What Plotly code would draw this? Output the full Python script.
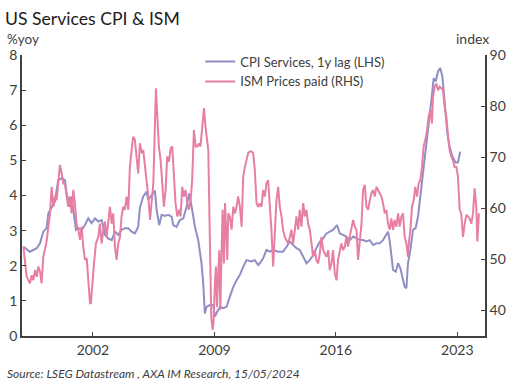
import plotly.graph_objects as go
import pandas as pd

# CPI Services, 1y lag (LHS) - decimal year, %yoy
cpi_t = [1997.99, 1998.37, 1998.76, 1998.95, 1999.14, 1999.33, 1999.43, 1999.62, 1999.81, 2000.0,
         2000.2, 2000.39, 2000.48, 2000.68, 2000.77, 2000.87, 2001.02, 2001.16, 2001.35, 2001.54,
         2001.73, 2001.92, 2002.12, 2002.31, 2002.5, 2002.69, 2002.88, 2003.08, 2003.27, 2003.46,
         2003.65, 2003.84, 2004.04, 2004.23, 2004.42, 2004.61, 2004.71, 2004.9, 2005.09, 2005.19,
         2005.38, 2005.57, 2005.67, 2005.82, 2005.96, 2006.15, 2006.34, 2006.53, 2006.63, 2006.82,
         2007.01, 2007.21, 2007.4, 2007.55, 2007.69, 2007.88, 2008.07, 2008.26, 2008.36, 2008.45,
         2008.55, 2008.74, 2008.93, 2009.03, 2009.16, 2009.32, 2009.51, 2009.7, 2009.89, 2010.09,
         2010.28, 2010.47, 2010.66, 2010.85, 2011.14, 2011.33, 2011.53, 2011.62, 2011.81, 2012.0,
         2012.2, 2012.39, 2012.68, 2012.96, 2013.16, 2013.35, 2013.54, 2013.73, 2013.92, 2014.12,
         2014.31, 2014.5, 2014.69, 2014.88, 2015.08, 2015.27, 2015.46, 2015.65, 2015.84, 2016.07,
         2016.23, 2016.42, 2016.61, 2016.8, 2017.0, 2017.19, 2017.38, 2017.57, 2017.76, 2017.96,
         2018.15, 2018.34, 2018.53, 2018.72, 2018.91, 2019.01, 2019.11, 2019.2, 2019.3, 2019.45,
         2019.59, 2019.72, 2019.84, 2019.97, 2020.07, 2020.16, 2020.3, 2020.45, 2020.6, 2020.74,
         2020.87, 2021.03, 2021.18, 2021.31, 2021.41, 2021.51, 2021.64, 2021.76, 2021.89, 2022.02,
         2022.14, 2022.27, 2022.43, 2022.56, 2022.72, 2022.9, 2023.04, 2023.17]
cpi_v = [2.54, 2.40, 2.50, 2.64, 2.97, 3.07, 3.49, 3.68, 3.83, 4.44,
         4.49, 4.44, 4.06, 3.68, 3.97, 3.59, 3.02, 3.07, 3.02, 3.16,
         3.35, 3.21, 3.35, 3.26, 3.30, 2.88, 2.78, 2.73, 2.97, 2.88,
         3.02, 3.07, 3.07, 2.97, 2.92, 3.11, 3.66, 3.97, 4.11, 3.88,
         4.02, 4.14, 3.59, 3.16, 3.45, 3.42, 3.45, 3.40, 3.16, 3.11,
         3.30, 3.35, 3.68, 4.06, 3.68, 3.11, 2.73, 2.07, 1.50, 0.64,
         0.83, 0.88, 0.88, 0.55, 0.69, 0.83, 0.79, 0.83, 1.12, 1.40,
         1.59, 1.74, 1.97, 2.16, 2.12, 2.16, 2.02, 2.07, 2.21, 2.45,
         2.40, 2.45, 2.40, 2.40, 2.54, 2.69, 2.59, 2.50, 2.45, 2.26,
         2.07, 2.16, 2.30, 2.50, 2.69, 2.78, 2.92, 2.97, 3.02, 3.16,
         2.92, 2.88, 2.83, 2.73, 2.83, 2.78, 2.73, 2.73, 2.69, 2.73,
         2.59, 2.64, 2.64, 2.73, 2.88, 2.97, 2.69, 2.21, 1.88, 1.83,
         2.07, 1.93, 1.69, 1.40, 1.36, 2.07, 2.45, 3.02, 3.07, 3.40,
         3.97, 4.63, 5.30, 5.77, 6.25, 6.72, 7.34, 7.25, 7.53, 7.63,
         7.39, 6.72, 5.77, 5.39, 5.11, 4.94, 4.94, 5.25]

# ISM Prices paid (RHS) - decimal year, index
ism_t = [1997.99, 1998.08, 1998.18, 1998.37, 1998.47, 1998.56, 1998.66, 1998.76, 1998.85, 1998.95,
         1999.04, 1999.14, 1999.24, 1999.33, 1999.43, 1999.52, 1999.62, 1999.72, 1999.81, 1999.91,
         2000.0, 2000.1, 2000.2, 2000.29, 2000.39, 2000.48, 2000.58, 2000.68, 2000.77, 2000.87,
         2000.96, 2001.06, 2001.16, 2001.25, 2001.35, 2001.44, 2001.54, 2001.64, 2001.73, 2001.83,
         2001.88, 2001.98, 2002.06, 2002.17, 2002.31, 2002.4, 2002.5, 2002.6, 2002.69, 2002.79,
         2002.88, 2002.98, 2003.08, 2003.17, 2003.27, 2003.36, 2003.46, 2003.56, 2003.65, 2003.75,
         2003.84, 2003.94, 2004.04, 2004.13, 2004.23, 2004.32, 2004.42, 2004.52, 2004.61,
         2004.71, 2004.81, 2004.9, 2005.0, 2005.09, 2005.19, 2005.29, 2005.38, 2005.48, 2005.57,
         2005.63, 2005.71, 2005.8, 2005.9, 2006.0, 2006.09, 2006.19, 2006.28, 2006.38, 2006.48,
         2006.57, 2006.67, 2006.76, 2006.86, 2006.96, 2007.05, 2007.15, 2007.24, 2007.34, 2007.44,
         2007.53, 2007.63, 2007.72, 2007.82, 2007.92, 2008.01, 2008.11, 2008.2, 2008.3, 2008.4,
         2008.49, 2008.59, 2008.65, 2008.7, 2008.76, 2008.82, 2008.9, 2008.95, 2009.03, 2009.09,
         2009.15, 2009.22, 2009.28, 2009.34, 2009.41, 2009.47, 2009.55, 2009.61, 2009.66, 2009.74,
         2009.8, 2009.89, 2009.99, 2010.09, 2010.18, 2010.28, 2010.37, 2010.47, 2010.57, 2010.66,
         2010.76, 2010.85, 2010.95, 2011.05, 2011.14, 2011.24, 2011.33, 2011.43, 2011.53,
         2011.62, 2011.72, 2011.81, 2011.91, 2012.0, 2012.1, 2012.2, 2012.29, 2012.39, 2012.48,
         2012.58, 2012.68, 2012.77, 2012.87, 2012.96, 2013.06, 2013.16, 2013.25, 2013.35, 2013.44,
         2013.54, 2013.64, 2013.73, 2013.83, 2013.92, 2014.02, 2014.12, 2014.21, 2014.31, 2014.4,
         2014.5, 2014.6, 2014.69, 2014.79, 2014.88, 2014.98, 2015.08, 2015.17, 2015.27, 2015.36,
         2015.46, 2015.56, 2015.65, 2015.75, 2015.84, 2015.94, 2016.04, 2016.13, 2016.23, 2016.32,
         2016.42, 2016.52, 2016.61, 2016.71, 2016.8, 2016.9, 2017.0, 2017.09, 2017.19, 2017.28,
         2017.38, 2017.48, 2017.57, 2017.67, 2017.76, 2017.86, 2017.96, 2018.05, 2018.15, 2018.24,
         2018.34, 2018.44,
         2018.53, 2018.63, 2018.72, 2018.82, 2018.91, 2019.01, 2019.11, 2019.2, 2019.3, 2019.39,
         2019.49, 2019.59, 2019.68, 2019.78, 2019.87, 2019.97, 2020.07, 2020.16, 2020.22, 2020.3,
         2020.39, 2020.49, 2020.58, 2020.68, 2020.78, 2020.87, 2020.97, 2021.06, 2021.16, 2021.26,
         2021.35, 2021.45, 2021.54, 2021.6, 2021.7, 2021.79, 2021.89, 2021.99, 2022.08, 2022.18,
         2022.27, 2022.37, 2022.47, 2022.56, 2022.66, 2022.75, 2022.85, 2022.95, 2023.04, 2023.14,
         2023.23, 2023.33, 2023.43, 2023.52, 2023.62, 2023.71, 2023.81, 2023.91, 2024.0, 2024.1,
         2024.16, 2024.25]
ism_v = [52.5, 49.2, 46.6, 45.3, 46.9, 45.9, 47.9, 46.6, 48.6, 47.6,
         45.3, 50.5, 52.5, 53.5, 56.4, 58.7, 64.2, 60.3, 62.3, 61.6,
         64.9, 68.5, 66.8, 64.9, 64.6, 62.3, 60.3, 62.3, 59.0, 63.6,
         61.0, 56.7, 55.8, 53.8, 56.4, 52.5, 49.9, 50.2, 45.3, 41.4,
         41.4, 46.6, 49.2, 53.1, 54.4, 57.0, 53.1, 55.8, 57.4, 54.4,
         57.0, 60.3, 57.0, 59.0, 52.5, 49.9, 53.1, 54.4, 58.4, 60.3,
         59.7, 62.3, 59.7, 68.1, 71.4, 74.0, 73.4, 70.1, 66.8,
         72.7, 70.8, 71.4, 68.1, 66.2, 62.3, 57.7, 61.0, 64.9, 76.0,
         83.5, 78.0, 72.1, 69.4, 65.5, 60.3, 63.6, 70.1, 69.1, 71.7,
         72.1, 64.9, 61.0, 58.4, 59.7, 58.4, 64.2, 62.3, 63.6, 61.0,
         59.7, 61.6, 65.5, 75.3, 72.1, 72.1, 72.7, 72.1, 75.3, 79.6,
         76.0, 72.1, 71.4, 61.6, 48.6, 38.8, 36.2, 37.5, 45.3, 48.6,
         40.7, 49.2, 51.8, 40.1, 54.4, 59.7, 49.2, 61.0, 57.0, 49.9,
         59.0, 58.4, 55.8, 60.3, 59.0, 60.3, 62.3, 60.3, 56.4, 66.2,
         68.1, 69.4, 70.8, 71.1, 71.1, 70.8, 67.5, 61.0, 60.3,
         61.0, 60.3, 63.6, 62.3, 64.9, 65.5, 60.3, 55.8, 48.6, 55.1,
         61.6, 64.2, 60.3, 58.4, 55.8, 54.4, 53.8, 53.1, 54.4, 55.8,
         53.1, 56.4, 58.4, 55.8, 59.7, 56.4, 61.0, 58.4, 59.7, 57.0,
         55.8, 53.1, 50.5, 51.8, 49.9, 49.2, 51.2, 54.4, 51.8, 51.2,
         50.5, 51.8, 47.9, 49.2, 51.8, 47.3, 45.9, 49.9, 51.8, 53.1,
         51.8, 52.5, 54.4, 52.5, 54.4, 56.4, 57.7, 56.4, 55.8, 49.9,
         54.4, 57.0, 63.6, 64.6, 60.3, 59.7, 61.6, 62.9, 63.6, 62.3,
         64.2, 63.6,
         62.9, 62.3, 61.0, 59.0, 59.7, 57.0, 55.8, 58.0, 55.8, 57.7,
         56.4, 59.0, 56.4, 58.4, 59.0, 54.4, 53.1, 50.5, 53.5, 55.8,
         60.3, 61.6, 64.2, 62.3, 64.9, 65.5, 68.1, 72.1, 73.4, 75.3,
         78.0, 79.2, 76.6, 81.8, 83.8, 84.4, 83.1, 83.8, 83.5, 83.1,
         79.9, 78.0, 74.0, 71.4, 70.1, 69.4, 68.1, 68.1, 66.2, 59.7,
         59.0, 54.4, 57.0, 58.7, 58.4, 58.0, 57.0, 59.0, 63.9, 60.3,
         53.5, 59.0]

x_ticks = ["2002", "2009", "2016", "2023"]
y1_ticks = [0, 1, 2, 3, 4, 5, 6, 7, 8]
y2_ticks = [40, 50, 60, 70, 80, 90]


def to_date(y):
    yr = int(y)
    return pd.Timestamp(yr, 1, 1) + pd.Timedelta(days=(y - yr) * 365.25)


cpi_d = [to_date(t) for t in cpi_t]
ism_d = [to_date(t) for t in ism_t]

FONT = "Lato, 'Open Sans', sans-serif"
TXT = "#404040"
AX = "#404040"

fig = go.Figure()
fig.add_trace(go.Scatter(x=cpi_d, y=cpi_v, mode="lines", name="CPI Services, 1y lag (LHS)",
                         line=dict(color="#8f8fc4", width=2), yaxis="y"))
fig.add_trace(go.Scatter(x=ism_d, y=ism_v, mode="lines", name="ISM Prices paid (RHS)",
                         line=dict(color="#e77ea4", width=2), yaxis="y2"))

fig.update_layout(
    width=518, height=387,
    margin=dict(l=22, r=33, t=55, b=51),
    paper_bgcolor="white", plot_bgcolor="white",
    font=dict(family=FONT, size=14, color=TXT),
    showlegend=True,
    legend=dict(x=0.385, y=1.03, xanchor="left", yanchor="top", bgcolor="rgba(0,0,0,0)",
                font=dict(size=13, color=TXT), tracegroupgap=0, itemwidth=30),
    title=dict(text="US Services CPI & ISM", x=5/518, xanchor="left", xref="container",
               y=1 - 19/387, yanchor="middle", yref="container",
               font=dict(size=17.6, color="#202020", family=FONT)),
    xaxis=dict(type="date", range=[to_date(1997.91), to_date(2024.6)],
               tickvals=[pd.Timestamp(int(t), 1, 1) for t in x_ticks], ticktext=x_ticks,
               showgrid=False, zeroline=False, showline=True, linecolor=AX, linewidth=1.5,
               ticks="inside", ticklen=4, tickcolor=AX, automargin=False),
    yaxis=dict(range=[0, 8], tickvals=y1_ticks, showgrid=False, zeroline=False,
               showline=True, linecolor=AX, linewidth=1.5, ticks="inside", ticklen=4,
               tickcolor=AX, automargin=False),
    yaxis2=dict(range=[35, 90], tickvals=y2_ticks, overlaying="y", side="right",
                showgrid=False, zeroline=False, showline=True, linecolor=AX, linewidth=1.5,
                ticks="inside", ticklen=4, tickcolor=AX, automargin=False),
    annotations=[
        dict(text="%yoy", xref="paper", yref="paper", x=(5 - 22) / 463, y=(336 - 39) / 281,
             xanchor="left", yanchor="middle", showarrow=False, font=dict(size=13.5, color=TXT)),
        dict(text="index", xref="paper", yref="paper", x=(472 - 22) / 463, y=(336 - 39) / 281,
             xanchor="center", yanchor="middle", showarrow=False, font=dict(size=14, color=TXT)),
        dict(text="<i>Source: LSEG Datastream , AXA IM Research, 15/05/2024</i>",
             xref="paper", yref="paper", x=(5 - 22) / 463, y=(336 - 373) / 281,
             xanchor="left", yanchor="middle", showarrow=False, font=dict(size=12, color=TXT)),
    ],
)

fig.write_html("out.html", config={"displayModeBar": False},
               post_script="document.body.style.margin='0';document.body.style.padding='0';")
